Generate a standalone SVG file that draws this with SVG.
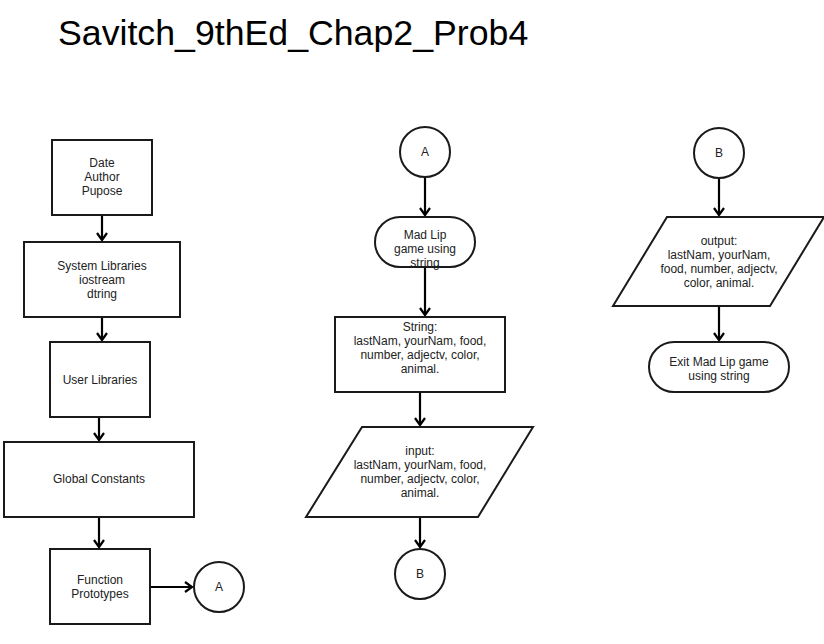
<svg xmlns="http://www.w3.org/2000/svg" width="824" height="644" viewBox="0 0 824 644">
<defs>
<style>
.s{fill:#fff;stroke:#1a1a1a;stroke-width:2}
.t{font-family:"Liberation Sans",Arial,sans-serif;font-size:12px;fill:#222;text-anchor:middle}
.c{fill:none;stroke:#000;stroke-width:2.2}
.title{font-family:"Liberation Sans",Arial,sans-serif;font-size:35.7px;fill:#000}
</style>
<marker id="ah" markerWidth="12" markerHeight="12" refX="9" refY="6" orient="auto" markerUnits="userSpaceOnUse">
<path d="M2,1 L9,6 L2,11" fill="none" stroke="#000" stroke-width="2.2"/>
</marker>
</defs>
<rect width="824" height="644" fill="#fff"/>
<text class="title" x="58" y="45">Savitch_9thEd_Chap2_Prob4</text>
<g id="connectors">
<line class="c" x1="102" y1="215" x2="102" y2="240" marker-end="url(#ah)"/>
<line class="c" x1="102" y1="317" x2="102" y2="340" marker-end="url(#ah)"/>
<line class="c" x1="99" y1="417" x2="99" y2="440" marker-end="url(#ah)"/>
<line class="c" x1="99" y1="517" x2="99" y2="547" marker-end="url(#ah)"/>
<line class="c" x1="150" y1="587" x2="192" y2="587" marker-end="url(#ah)"/>
<line class="c" x1="425" y1="177" x2="425" y2="215" marker-end="url(#ah)"/>
<line class="c" x1="425" y1="267" x2="425" y2="315" marker-end="url(#ah)"/>
<line class="c" x1="420" y1="392" x2="420" y2="425" marker-end="url(#ah)"/>
<line class="c" x1="420" y1="517" x2="420" y2="547" marker-end="url(#ah)"/>
<line class="c" x1="719" y1="178" x2="719" y2="215" marker-end="url(#ah)"/>
<line class="c" x1="719" y1="306" x2="719" y2="340" marker-end="url(#ah)"/>
</g>
<g id="n1"><rect class="s" x="52" y="140" width="100" height="75"/>
<text class="t"><tspan x="102" y="167">Date</tspan><tspan x="102" y="181">Author</tspan><tspan x="102" y="195">Pupose</tspan></text></g>
<g id="n2"><rect class="s" x="24" y="242" width="156" height="75"/>
<text class="t"><tspan x="102" y="270">System Libraries</tspan><tspan x="102" y="284">iostream</tspan><tspan x="102" y="298">dtring</tspan></text></g>
<g id="n3"><rect class="s" x="50" y="342" width="100" height="75"/>
<text class="t" x="100" y="384">User Libraries</text></g>
<g id="n4"><rect class="s" x="4" y="442" width="190" height="75"/>
<text class="t" x="99" y="483">Global Constants</text></g>
<g id="n5"><rect class="s" x="50" y="549" width="100" height="75"/>
<text class="t"><tspan x="100" y="584">Function</tspan><tspan x="100" y="598">Prototypes</tspan></text></g>
<g id="n6"><circle class="s" cx="219" cy="587" r="25"/>
<text class="t" x="219" y="591">A</text></g>
<g id="n7"><circle class="s" cx="425" cy="152" r="25"/>
<text class="t" x="425" y="156">A</text></g>
<g id="n8"><rect class="s" x="375" y="217" width="100" height="50" rx="25" ry="25"/>
<text class="t"><tspan x="425" y="239">Mad Lip</tspan><tspan x="425" y="253">game using</tspan><tspan x="425" y="267">string</tspan></text></g>
<g id="n9"><rect class="s" x="335" y="317" width="170" height="75"/>
<text class="t"><tspan x="420" y="331">String:</tspan><tspan x="420" y="345">lastNam, yourNam, food,</tspan><tspan x="420" y="359">number, adjectv, color,</tspan><tspan x="420" y="373">animal.</tspan></text></g>
<g id="n10"><polygon class="s" points="362,427 533,427 478,517 306,517"/>
<text class="t"><tspan x="420" y="455">input:</tspan><tspan x="420" y="469">lastNam, yourNam, food,</tspan><tspan x="420" y="483">number, adjectv, color,</tspan><tspan x="420" y="497">animal.</tspan></text></g>
<g id="n11"><circle class="s" cx="420" cy="574" r="25"/>
<text class="t" x="420" y="578">B</text></g>
<g id="n12"><circle class="s" cx="719" cy="153" r="25"/>
<text class="t" x="719" y="157">B</text></g>
<g id="n13"><polygon class="s" points="667,217 824,217 770,306 613,306"/>
<text class="t"><tspan x="719" y="245">output:</tspan><tspan x="719" y="259">lastNam, yourNam,</tspan><tspan x="719" y="273">food, number, adjectv,</tspan><tspan x="719" y="287">color, animal.</tspan></text></g>
<g id="n14"><rect class="s" x="649" y="342" width="140" height="50" rx="25" ry="25"/>
<text class="t"><tspan x="719" y="366">Exit Mad Lip game</tspan><tspan x="719" y="380">using string</tspan></text></g>
</svg>
